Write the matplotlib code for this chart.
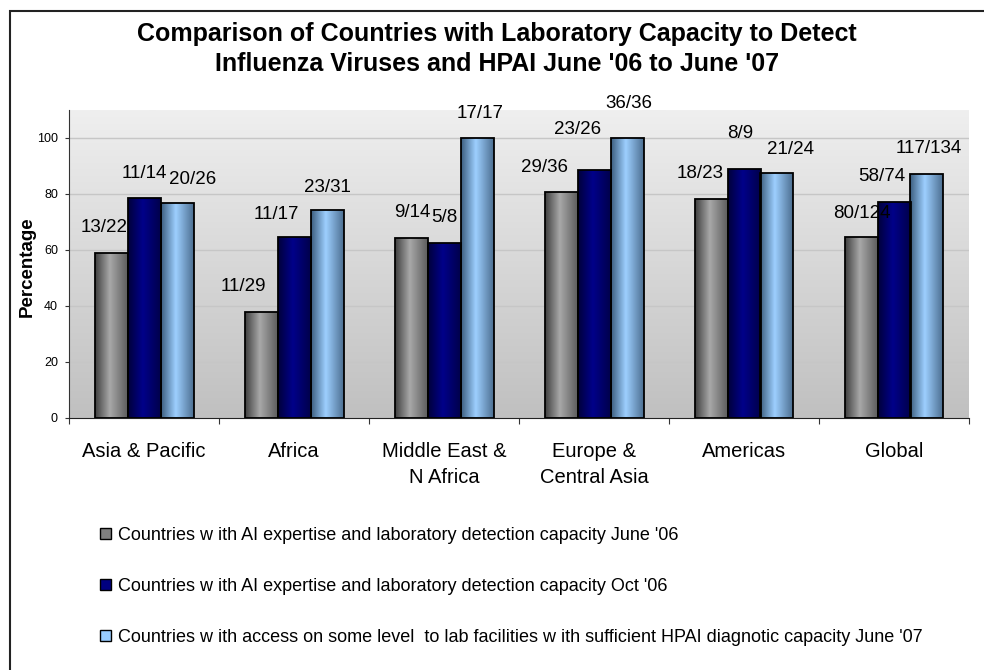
import numpy as np
import matplotlib
matplotlib.use('Agg')
import matplotlib.pyplot as plt
from matplotlib.colors import LinearSegmentedColormap
from matplotlib.patches import Patch, Rectangle

plt.rcParams['font.family'] = ['Liberation Sans', 'DejaVu Sans']

# data
regions = ['Asia & Pacific', 'Africa', 'Middle East &\nN Africa',
           'Europe &\nCentral Asia', 'Americas', 'Global']
series_names = [
    "Countries w ith AI expertise and laboratory detection capacity June '06",
    "Countries w ith AI expertise and laboratory detection capacity Oct '06",
    "Countries w ith access on some level  to lab facilities w ith sufficient HPAI diagnotic capacity June '07",
]
june06 = [59.1, 37.9, 64.3, 80.6, 78.3, 64.5]
oct06 = [78.6, 64.7, 62.5, 88.5, 88.9, 77.0]
june07 = [76.9, 74.2, 100.0, 100.0, 87.5, 87.3]
june06_lbl = ['13/22', '11/29', '9/14', '29/36', '18/23', '80/124']
oct06_lbl = ['11/14', '11/17', '5/8', '23/26', '8/9', '58/74']
june07_lbl = ['20/26', '23/31', '17/17', '36/36', '21/24', '117/134']

# label nudges (pixels) -- the labels were moved by hand in the original
june06_off = [(-7, 25), (-18, 25), (1, 25), (-17, 25), (-11, 25), (1, 24)]
oct06_off = [(0, 24), (-18, 22), (0, 25), (-16, 41), (-4, 36), (-12, 26)]
june07_off = [(16, 23), (0, 23), (3, 25), (2, 35), (14, 23), (2, 25)]

# bar shading: left edge, highlight, right edge
shades = [('#3e3e3e', '#a8a8a8', '#5c5c5c'),
          ('#00003a', '#00008a', '#00004a'),
          ('#3b5d7e', '#9dcfff', '#4c6e90')]
flat = ['#808080', '#000080', '#99ccff']

fig = plt.figure(figsize=(9.84, 6.70), dpi=100)
ax = fig.add_axes([69/984, 1-418/670, 900/984, 308/670])

# plot area gradient
bg = LinearSegmentedColormap.from_list('bg', ['#c0c0c0', '#efefef'])
ax.imshow(np.linspace(0, 1, 256).reshape(-1, 1), cmap=bg, origin='lower',
          extent=[-0.5, 5.5, 0, 110], aspect='auto', zorder=0)

x = np.arange(len(regions))
w = 0.22
grad = np.linspace(0, 1, 256).reshape(1, -1)
for k, (vals, lbls, offs) in enumerate([(june06, june06_lbl, june06_off),
                                         (oct06, oct06_lbl, oct06_off),
                                         (june07, june07_lbl, june07_off)]):
    bars = ax.bar(x + (k - 1) * w, vals, w, facecolor='none',
                  edgecolor='black', linewidth=1.3, zorder=3)
    cm = LinearSegmentedColormap.from_list('s%d' % k,
                                           [(0, shades[k][0]), (0.45, shades[k][1]), (1, shades[k][2])])
    for b, lab, (dx, dy) in zip(bars, lbls, offs):
        im = ax.imshow(grad, cmap=cm, aspect='auto', zorder=2,
                       extent=[b.get_x(), b.get_x() + b.get_width(), 0, b.get_height()])
        im.set_clip_path(b)
        ax.annotate(lab, (b.get_x() + b.get_width()/2, b.get_height()),
                    xytext=(dx, dy), textcoords='offset pixels',
                    ha='center', va='center', fontsize=13.5, zorder=4)

ax.set_xlim(-0.5, 5.5)
ax.set_ylim(0, 110)
ax.set_yticks(range(0, 101, 20))
ax.set_axisbelow(True)
ax.yaxis.grid(True, color='#c6c6c6', linewidth=1)
ax.tick_params(axis='y', labelsize=9, length=3, pad=5, color='#333333')

ax.set_xticks(np.arange(-0.5, 6, 1))
ax.set_xticklabels([])
ax.set_xticks(x, minor=True)
ax.set_xticklabels(regions, minor=True)
ax.tick_params(axis='x', which='major', length=4, color='#333333')
ax.tick_params(axis='x', which='minor', length=0, labelsize=14.5, pad=17.5)
for t in ax.get_xticklabels(minor=True):
    t.set_linespacing(1.45)

for s in ['top', 'right']:
    ax.spines[s].set_visible(False)
ax.spines['left'].set_color('#333333')
ax.spines['bottom'].set_color('#222222')

ax.set_ylabel('Percentage', fontsize=13.5, fontweight='bold')
ax.yaxis.set_label_coords(-(69 - 27) / 900, 0.49)
ax.yaxis.label.set_va('center')

fig.text(0.505, 1 - 49/670,
         "Comparison of Countries with Laboratory Capacity to Detect\n"
         "Influenza Viruses and HPAI June '06 to June '07",
         ha='center', va='center', fontsize=18, fontweight='bold', linespacing=1.35)

handles = [Patch(facecolor=c, edgecolor='black', linewidth=1) for c in flat]
fig.legend(handles, series_names, loc='upper left',
           bbox_to_anchor=(100/984, 1 - 527/670), frameon=False, fontsize=13,
           handlelength=0.6, handleheight=0.6, handletextpad=0.4,
           labelspacing=1.88, borderpad=0, borderaxespad=0)

# outer chart frame (cropped on the right and bottom)
fig.add_artist(Rectangle((10/984, -0.1), 1.5, 1.1 - 11/670, transform=fig.transFigure,
                         fill=False, edgecolor='#222222', linewidth=1.5))

fig.savefig('out.png', dpi=100)
